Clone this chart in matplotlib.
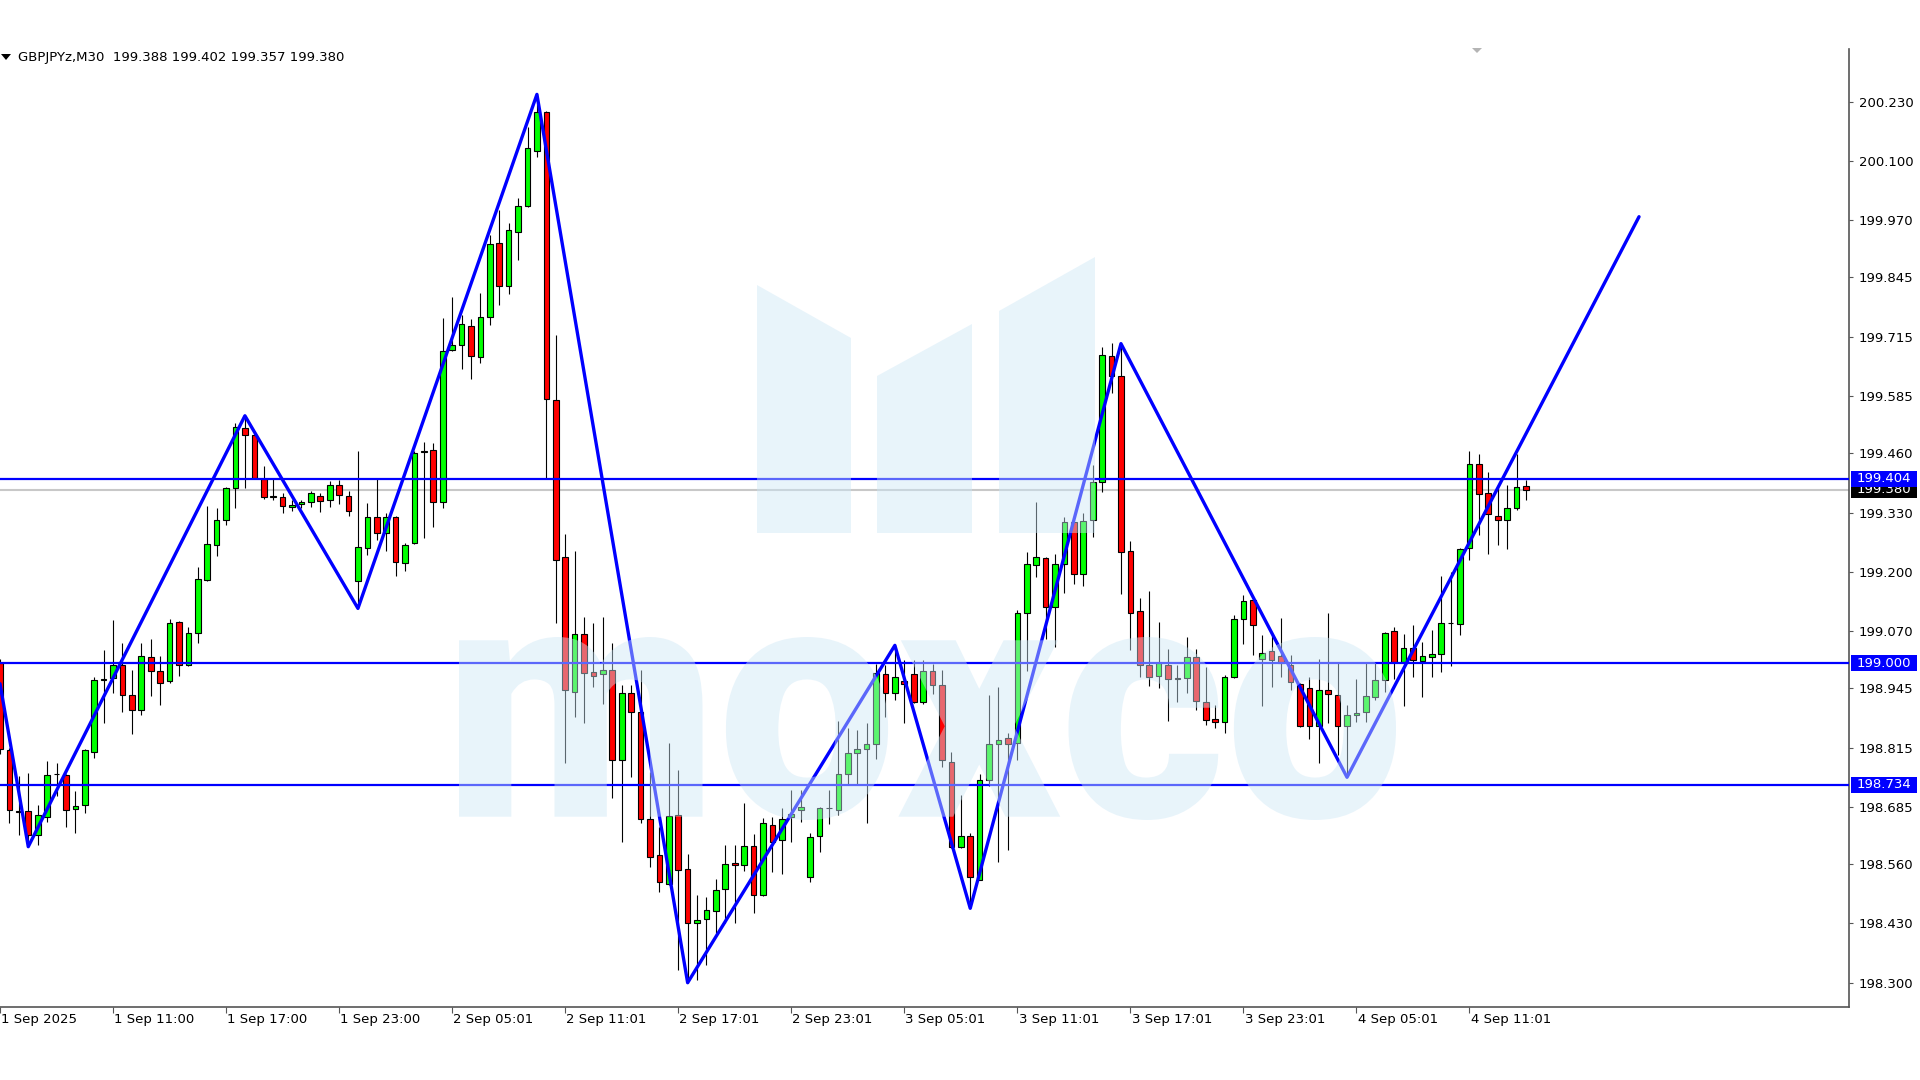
import numpy as np
import matplotlib
matplotlib.use('Agg')
import matplotlib.pyplot as plt
from matplotlib.patches import Rectangle, Polygon, PathPatch
from matplotlib.textpath import TextPath
from matplotlib.font_manager import FontProperties
from matplotlib.transforms import Affine2D, ScaledTranslation

# GBPJPYz M30 candles, bar 0 = 1 Sep 11:00
header = 'GBPJPYz,M30  199.388 199.402 199.357 199.380'
bar_first = -12
opens = [199.000, 198.810, 198.677, 198.677, 198.624, 198.664, 198.757, 198.755, 198.681, 198.690,
         198.806, 198.963, 198.967, 198.996, 198.931, 198.898, 199.013, 198.982, 198.960, 199.091,
         198.996, 199.066, 199.183, 199.259, 199.314, 199.383, 199.515, 199.500, 199.403, 199.365,
         199.365, 199.342, 199.349, 199.352, 199.367, 199.358, 199.391, 199.367, 199.181, 199.252,
         199.321, 199.285, 199.321, 199.219, 199.263, 199.462, 199.466, 199.352, 199.686, 199.696,
         199.739, 199.670, 199.758, 199.920, 199.827, 199.945, 200.002, 200.122, 200.207, 199.577,
         199.233, 198.937, 199.065, 198.981, 198.976, 198.985, 198.788, 198.934, 198.893, 198.658,
         198.579, 198.517, 198.667, 198.550, 198.430, 198.439, 198.457, 198.506, 198.563, 198.557,
         198.599, 198.492, 198.645, 198.612, 198.663, 198.678, 198.532, 198.621, 198.682, 198.679,
         198.757, 198.804, 198.813, 198.824, 198.976, 198.934, 198.962, 198.977, 198.915, 198.983,
         198.952, 198.784, 198.598, 198.621, 198.526, 198.744, 198.824, 198.835, 198.826, 199.109,
         199.215, 199.230, 199.122, 199.217, 199.309, 199.196, 199.313, 199.396, 199.672, 199.628,
         199.246, 199.115, 198.996, 198.971, 198.997, 198.968, 198.968, 199.013, 198.915, 198.878,
         198.871, 198.970, 199.096, 199.138, 199.010, 199.026, 199.015, 198.996, 198.955, 198.946,
         198.862, 198.941, 198.930, 198.862, 198.886, 198.893, 198.925, 198.964, 199.070, 199.003,
         199.034, 199.005, 199.014, 199.021, 199.087, 199.085, 199.252, 199.437, 199.372, 199.323,
         199.313, 199.339, 199.388]
highs = [199.010, 198.814, 198.752, 198.760, 198.690, 198.785, 198.781, 198.757, 198.719, 198.812,
         198.969, 199.028, 199.095, 199.044, 198.985, 199.044, 199.053, 199.015, 199.096, 199.093,
         199.079, 199.210, 199.345, 199.340, 199.386, 199.526, 199.542, 199.502, 199.432, 199.403,
         199.372, 199.358, 199.358, 199.378, 199.372, 199.398, 199.402, 199.378, 199.464, 199.350,
         199.403, 199.329, 199.322, 199.264, 199.464, 199.485, 199.482, 199.756, 199.803, 199.763,
         199.753, 199.810, 199.938, 199.993, 199.965, 200.020, 200.175, 200.246, 200.210, 199.719,
         199.283, 199.246, 199.101, 199.088, 199.101, 199.045, 198.952, 198.952, 198.985, 198.762,
         198.641, 198.825, 198.766, 198.582, 198.492, 198.488, 198.528, 198.601, 198.601, 198.694,
         198.625, 198.660, 198.663, 198.682, 198.722, 198.722, 198.627, 198.685, 198.722, 198.874,
         198.857, 198.853, 198.869, 198.999, 198.996, 199.039, 199.007, 199.008, 199.008, 198.999,
         198.985, 198.806, 198.711, 198.628, 198.757, 198.930, 198.948, 198.848, 199.117, 199.243,
         199.354, 199.232, 199.239, 199.320, 199.310, 199.330, 199.435, 199.693, 199.701, 199.700,
         199.268, 199.143, 199.158, 199.090, 199.032, 198.997, 199.057, 199.032, 198.991, 198.909,
         198.974, 199.105, 199.149, 199.139, 199.061, 199.061, 199.098, 199.018, 198.957, 198.970,
         199.010, 199.110, 199.000, 198.908, 198.966, 199.000, 199.000, 199.068, 199.080, 199.065,
         199.083, 199.047, 199.072, 199.191, 199.199, 199.252, 199.465, 199.459, 199.419, 199.390,
         199.390, 199.458, 199.402]
lows = [198.800, 198.650, 198.624, 198.598, 198.602, 198.653, 198.708, 198.642, 198.628, 198.671,
        198.792, 198.869, 198.934, 198.894, 198.845, 198.887, 198.927, 198.909, 198.956, 198.971,
        198.993, 199.044, 199.179, 199.235, 199.303, 199.341, 199.383, 199.403, 199.359, 199.358,
        199.329, 199.333, 199.340, 199.343, 199.332, 199.343, 199.349, 199.323, 199.120, 199.237,
        199.269, 199.245, 199.191, 199.201, 199.262, 199.274, 199.299, 199.339, 199.683, 199.644,
        199.622, 199.658, 199.741, 199.785, 199.809, 199.883, 200.000, 200.108, 199.405, 199.087,
        198.782, 198.882, 198.869, 198.948, 198.910, 198.704, 198.609, 198.751, 198.649, 198.554,
        198.499, 198.515, 198.327, 198.300, 198.305, 198.338, 198.408, 198.430, 198.430, 198.545,
        198.452, 198.490, 198.543, 198.539, 198.609, 198.652, 198.521, 198.587, 198.647, 198.667,
        198.736, 198.736, 198.649, 198.789, 198.882, 198.919, 198.869, 198.912, 198.910, 198.932,
        198.773, 198.595, 198.595, 198.463, 198.524, 198.731, 198.565, 198.591, 198.787, 198.983,
        199.189, 199.052, 199.035, 199.154, 199.174, 199.170, 199.276, 199.374, 199.591, 199.152,
        199.029, 198.970, 198.950, 198.945, 198.874, 198.916, 198.935, 198.898, 198.865, 198.857,
        198.848, 198.968, 199.042, 199.018, 198.906, 198.948, 198.970, 198.942, 198.860, 198.833,
        198.782, 198.869, 198.798, 198.750, 198.871, 198.871, 198.919, 198.937, 198.966, 198.906,
        198.970, 198.926, 198.969, 198.981, 198.993, 199.061, 199.226, 199.280, 199.239, 199.258,
        199.250, 199.335, 199.357]
closes = [198.812, 198.679, 198.673, 198.624, 198.668, 198.755, 198.758, 198.679, 198.688, 198.810,
          198.963, 198.966, 198.996, 198.931, 198.898, 199.016, 198.982, 198.956, 199.088, 198.996,
          199.067, 199.184, 199.261, 199.313, 199.383, 199.517, 199.500, 199.405, 199.365, 199.366,
          199.345, 199.347, 199.354, 199.372, 199.356, 199.391, 199.369, 199.334, 199.254, 199.321,
          199.285, 199.321, 199.221, 199.259, 199.461, 199.464, 199.352, 199.683, 199.696, 199.742,
          199.673, 199.758, 199.918, 199.827, 199.949, 200.002, 200.128, 200.207, 199.579, 199.226,
          198.941, 199.065, 198.979, 198.972, 198.985, 198.788, 198.934, 198.893, 198.658, 198.576,
          198.521, 198.666, 198.547, 198.430, 198.438, 198.459, 198.503, 198.561, 198.557, 198.599,
          198.492, 198.649, 198.609, 198.658, 198.670, 198.685, 198.620, 198.682, 198.682, 198.757,
          198.804, 198.811, 198.824, 198.979, 198.934, 198.969, 198.955, 198.915, 198.983, 198.952,
          198.788, 198.598, 198.621, 198.532, 198.744, 198.822, 198.832, 198.822, 199.109, 199.217,
          199.233, 199.122, 199.217, 199.309, 199.196, 199.311, 199.396, 199.674, 199.630, 199.243,
          199.111, 198.996, 198.970, 199.000, 198.965, 198.966, 199.013, 198.917, 198.876, 198.871,
          198.970, 199.096, 199.137, 199.083, 199.023, 199.007, 199.000, 198.959, 198.862, 198.862,
          198.941, 198.932, 198.862, 198.886, 198.891, 198.928, 198.964, 199.067, 199.003, 199.034,
          199.008, 199.015, 199.021, 199.088, 199.088, 199.251, 199.437, 199.370, 199.326, 199.313,
          199.339, 199.385, 199.380]

time_ticks = [-12, 0, 12, 24, 36, 48, 60, 72, 84, 96, 108, 120, 132, 144]
time_labels = ['1 Sep 2025', '1 Sep 11:00', '1 Sep 17:00', '1 Sep 23:00', '2 Sep 05:01',
               '2 Sep 11:01', '2 Sep 17:01', '2 Sep 23:01', '3 Sep 05:01', '3 Sep 11:01',
               '3 Sep 17:01', '3 Sep 23:01', '4 Sep 05:01', '4 Sep 11:01']
price_ticks = [200.230, 200.100, 199.970, 199.845, 199.715, 199.585, 199.460, 199.330,
               199.200, 199.070, 198.945, 198.815, 198.685, 198.560, 198.430, 198.300]
levels = [199.404, 199.000, 198.734]
bid = 199.380

zz_bars = [-12, -9, 14, 26, 45, 61, 83, 91, 107, 131, 162]
zz_prices = [198.955, 198.598, 199.542, 199.120, 200.246, 198.300, 199.039, 198.463,
             199.700, 198.750, 199.978]

O = np.array(opens); H = np.array(highs); L = np.array(lows); C = np.array(closes)
bars = np.arange(bar_first, bar_first + len(O))

BLUE = '#0000ff'
W, Hpx = 1920, 1080
ax_l, ax_r, ax_t, ax_b = 0, 1849, 49, 1006.6  # plot box in pixels

fig = plt.figure(figsize=(19.2, 10.8), dpi=100)
fig.patch.set_facecolor('white')
ax = fig.add_axes([ax_l / W, (Hpx - ax_b) / Hpx, (ax_r - ax_l) / W, (ax_b - ax_t) / Hpx])
ax.set_xlim(-11.79, 184.29)
ax.set_ylim(198.2477, 200.3454)

# candles
ax.vlines(bars, L, H, colors='black', linewidth=0.8, zorder=2)
body_col = np.where(C >= O, '#00ff00', '#ff0000')
ax.bar(bars, np.abs(C - O), bottom=np.minimum(O, C), width=0.6, color=body_col,
       edgecolor='black', linewidth=0.8, zorder=3)

# lines
ax.axhline(bid, color='#c8c8c8', lw=1.5, zorder=1)
for lv in levels:
    ax.axhline(lv, color=BLUE, lw=1.6, zorder=4)
ax.plot(zz_bars, zz_prices, color=BLUE, lw=2.4, zorder=5, solid_capstyle='round')

# watermark (drawn on top, semi-transparent)
wm_col = '#cce7f6'
def px2ax(x, y):
    return ((x - ax_l) / (ax_r - ax_l), (ax_b - y) / (ax_b - ax_t))
for shape in ([(757, 533), (757, 285), (851, 338), (851, 533)],
              [(877, 533), (877, 376), (972, 324), (972, 533)],
              [(999, 533), (999, 311), (1095, 257), (1095, 533)]):
    ax.add_patch(Polygon([px2ax(*p) for p in shape], closed=True, transform=ax.transAxes,
                         fc=wm_col, ec='none', alpha=0.45, zorder=6))
tp = TextPath((0, 0), 'moxco', size=100, prop=FontProperties(family='Roboto', weight='black'))
ext = tp.get_extents()
x0, yb = px2ax(459, 820)
x1, yt = px2ax(1396, 637)
tr = Affine2D().translate(-ext.x0, -ext.y0).scale((x1 - x0) / ext.width, (yt - yb) / ext.height) \
    .translate(x0, yb) + ax.transAxes
ax.add_patch(PathPatch(tp, transform=tr, fc=wm_col, ec='none', alpha=0.45, zorder=6))

# spines
for s in ('left', 'top'):
    ax.spines[s].set_visible(False)
for s in ('right', 'bottom'):
    ax.spines[s].set_color('#555555')
    ax.spines[s].set_linewidth(1.2)

# y axis on the right
ax.yaxis.tick_right()
ax.set_yticks(price_ticks)
ax.set_yticklabels(['%.3f' % p for p in price_ticks])
ax.tick_params(axis='y', direction='out', length=3, width=0.8, color='#555555', pad=4,
               labelsize=9.5, labelcolor='black')

# x axis ticks, labels drawn by hand (left aligned just after tick)
ax.set_xticks(time_ticks)
ax.set_xticklabels([])
ax.tick_params(axis='x', direction='out', length=4, width=0.8, color='#555555')
off = ScaledTranslation(0.012, -0.065, fig.dpi_scale_trans)
for tb, tl in zip(time_ticks, time_labels):
    ax.text(tb, 0, tl, transform=ax.get_xaxis_transform() + off, ha='left', va='top',
            fontsize=9.5, color='black', clip_on=False)

# price label boxes on the right axis
ytr = ax.get_yaxis_transform()
box_h = 16 / 456.5
ax.add_patch(Rectangle((1.0011, bid - box_h / 2), 0.0357, box_h, transform=ytr,
                       fc='black', ec='none', clip_on=False, zorder=10))
ax.text(1.0043, bid, '%.3f' % bid, transform=ytr, color='white', fontsize=9.5,
        va='center', ha='left', clip_on=False, zorder=11)
for lv in levels:
    ax.add_patch(Rectangle((1.0011, lv - box_h / 2), 0.0357, box_h, transform=ytr,
                           fc=BLUE, ec='none', clip_on=False, zorder=12))
    ax.text(1.0043, lv, '%.3f' % lv, transform=ytr, color='white', fontsize=9.5,
            va='center', ha='left', clip_on=False, zorder=13)

# header and small markers
fig.text(18 / W, 1 - 57 / Hpx, header, fontsize=9.5, color='black', va='center', ha='left')
fig.add_artist(Polygon([(1 / W, 1 - 54 / Hpx), (11 / W, 1 - 54 / Hpx), (6 / W, 1 - 60 / Hpx)],
                       closed=True, transform=fig.transFigure, fc='black', ec='none'))
fig.add_artist(Polygon([(1472 / W, 1 - 48 / Hpx), (1482 / W, 1 - 48 / Hpx), (1477 / W, 1 - 53 / Hpx)],
                       closed=True, transform=fig.transFigure, fc='#b4b4b4', ec='none'))

fig.savefig('out.png', dpi=100, facecolor='white')
